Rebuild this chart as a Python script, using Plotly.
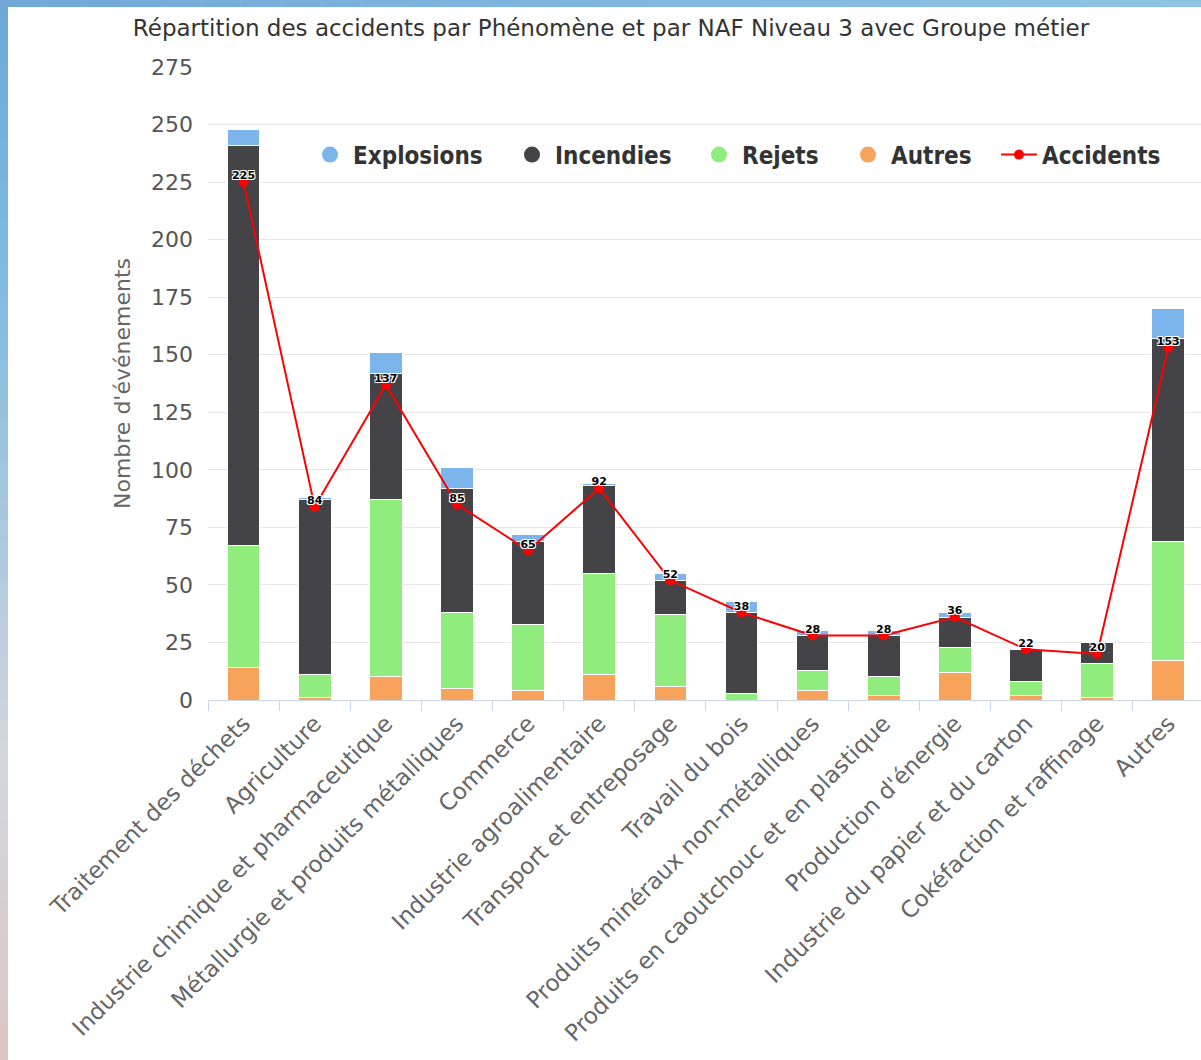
import plotly.graph_objects as go

# Sector labels (NAF level 3 with business group)
categories = [
    "Traitement des déchets",
    "Agriculture",
    "Industrie chimique et pharmaceutique",
    "Métallurgie et produits métalliques",
    "Commerce",
    "Industrie agroalimentaire",
    "Transport et entreposage",
    "Travail du bois",
    "Produits minéraux non-métalliques",
    "Produits en caoutchouc et en plastique",
    "Production d'énergie",
    "Industrie du papier et du carton",
    "Cokéfaction et raffinage",
    "Autres",
]

# Events by phenomenon (stacked bars)
explosions = [7, 1, 9, 9, 3, 1, 3, 5, 2, 2, 2, 0, 0, 13]
incendies = [174, 76, 55, 54, 36, 38, 15, 35, 15, 18, 13, 14, 9, 88]
rejets = [53, 10, 77, 33, 29, 44, 31, 3, 9, 8, 11, 6, 15, 52]
autres = [14, 1, 10, 5, 4, 11, 6, 0, 4, 2, 12, 2, 1, 17]

# Number of accidents (line)
accidents = [225, 84, 137, 85, 65, 92, 52, 38, 28, 28, 36, 22, 20, 153]

y_ticks = [0, 25, 50, 75, 100, 125, 150, 175, 200, 225, 250, 275]

COL_EXPLO = "#7cb5ec"
COL_INC = "#434348"
COL_REJ = "#90ed7d"
COL_AUT = "#f7a35c"
COL_ACC = "#ff0000"

BASE_FONT = "DejaVu Sans, Verdana, sans-serif"
LEGEND_FONT = "DejaVu Sans Condensed, DejaVu Sans, sans-serif"

W, H = 1201, 1060
M_L, M_R, M_T, M_B = 208, 0, 67, 360
PW = W - M_L - M_R
PH = H - M_T - M_B


def px_x(p):
    return (p - M_L) / PW


def px_y(p):
    return (H - M_B - p) / PH


fig = go.Figure()

# Stacked bars, bottom to top
for name, vals, col in [
    ("Autres", autres, COL_AUT),
    ("Rejets", rejets, COL_REJ),
    ("Incendies", incendies, COL_INC),
    ("Explosions", explosions, COL_EXPLO),
]:
    fig.add_trace(go.Bar(
        x=categories, y=vals, name=name, legendgroup=name,
        marker=dict(color=col, line=dict(color="#ffffff", width=1)),
        width=0.46, showlegend=False,
        hovertemplate="%{x}<br>" + name + ": %{y}<extra></extra>",
    ))

# One legend per entry so each key sits at its own position
legend_items = [
    ("Explosions", COL_EXPLO, "legend", 307),
    ("Incendies", COL_INC, "legend2", 509),
    ("Rejets", COL_REJ, "legend3", 696),
    ("Autres", COL_AUT, "legend4", 845),
]
for name, col, lg, _ in legend_items:
    fig.add_trace(go.Scatter(
        x=[None], y=[None], mode="markers", name=name, legendgroup=name,
        legend=lg, marker=dict(symbol="circle", size=16, color=col),
    ))

# Accidents line
fig.add_trace(go.Scatter(
    x=categories, y=accidents, name="Accidents", legendgroup="Accidents",
    legend="legend5", mode="lines+markers",
    line=dict(color=COL_ACC, width=2),
    marker=dict(color=COL_ACC, size=10, symbol="circle"),
))

# Value labels above the accident points
fig.add_trace(go.Scatter(
    x=categories, y=accidents, mode="text", legendgroup="Accidents",
    text=[str(v) for v in accidents], textposition="top center",
    textfont=dict(family=BASE_FONT, size=11, color="#000000", weight="bold",
                  shadow="-1px -1px 0 #fff, 1px -1px 0 #fff, -1px 1px 0 #fff, 1px 1px 0 #fff"),
    showlegend=False, hoverinfo="skip",
))


def legend_box(x_px):
    return dict(
        orientation="h", x=px_x(x_px), xanchor="left", y=px_y(155), yanchor="middle",
        bgcolor="rgba(0,0,0,0)", borderwidth=0, itemwidth=36,
        font=dict(family=LEGEND_FONT, size=24, color="#333333", weight="bold"),
    )


# Frame: gradient strips along the top and left edges
def lerp_hex(c1, c2, t):
    a = [int(c1[i:i + 2], 16) for i in (1, 3, 5)]
    b = [int(c2[i:i + 2], 16) for i in (1, 3, 5)]
    return "#%02x%02x%02x" % tuple(round(a[k] + (b[k] - a[k]) * t) for k in range(3))


shapes = []
# white backdrop behind the legend row
shapes.append(dict(type="rect", xref="paper", yref="paper",
                   x0=px_x(275), x1=px_x(1190), y0=px_y(187), y1=px_y(129),
                   fillcolor="#ffffff", line=dict(width=0), layer="between"))

left_stops = [(0, "#6ea7d7"), (300, "#82bde0"), (520, "#a9c7df"),
              (760, "#d3d7df"), (1060, "#dcc6c2")]
N = 53
for i in range(N):
    y0 = H * i / N
    y1 = H * (i + 1) / N
    ym = (y0 + y1) / 2
    for (s0, c0), (s1, c1) in zip(left_stops[:-1], left_stops[1:]):
        if s0 <= ym <= s1:
            col = lerp_hex(c0, c1, (ym - s0) / (s1 - s0))
            break
    shapes.append(dict(type="rect", xref="paper", yref="paper",
                       x0=px_x(0), x1=px_x(8), y0=px_y(y1 + 0.5), y1=px_y(y0),
                       fillcolor=col, line=dict(width=0), layer="above"))
M = 30
for i in range(M):
    x0 = W * i / M
    x1 = W * (i + 1) / M
    col = lerp_hex("#70a9d8", "#8ec5e4", (x0 + x1) / 2 / W)
    shapes.append(dict(type="rect", xref="paper", yref="paper",
                       x0=px_x(x0), x1=px_x(x1 + 0.5), y0=px_y(7), y1=px_y(0),
                       fillcolor=col, line=dict(width=0), layer="above"))

fig.update_layout(
    width=W, height=H,
    margin=dict(l=M_L, r=M_R, t=M_T, b=M_B),
    paper_bgcolor="#ffffff", plot_bgcolor="#ffffff",
    barmode="stack", bargap=0.54,
    font=dict(family=BASE_FONT, color="#333333"),
    title=dict(
        text="Répartition des accidents par Phénomène et par NAF Niveau 3 avec Groupe métier",
        x=px_x(611), xanchor="center", xref="paper",
        y=1 - 28 / H, yanchor="middle", yref="container",
        font=dict(family=BASE_FONT, size=23, color="#333333"),
    ),
    legend=legend_box(legend_items[0][3]),
    legend2=legend_box(legend_items[1][3]),
    legend3=legend_box(legend_items[2][3]),
    legend4=legend_box(legend_items[3][3]),
    legend5=legend_box(996),
    xaxis=dict(
        type="category", categoryorder="array", categoryarray=categories,
        range=[-0.5, 13.46],
        tickangle=-45, tickson="boundaries", ticks="outside", ticklen=10,
        tickcolor="#ccd6eb", showline=True, linecolor="#ccd6eb", linewidth=1,
        showgrid=False, zeroline=False,
        tickfont=dict(family=BASE_FONT, size=23, color="#666666"),
    ),
    yaxis=dict(
        range=[0, 275], tickvals=y_ticks,
        showgrid=True, gridcolor="#e6e6e6", gridwidth=1, zeroline=False,
        showline=False, ticks="", ticklabelstandoff=14,
        tickfont=dict(family=BASE_FONT, size=22, color="#555555"),
        title=dict(text="Nombre d'événements", standoff=14,
                   font=dict(family=BASE_FONT, size=22, color="#666666")),
    ),
    shapes=shapes,
    hovermode="closest",
)

fig.write_html("out.html")
